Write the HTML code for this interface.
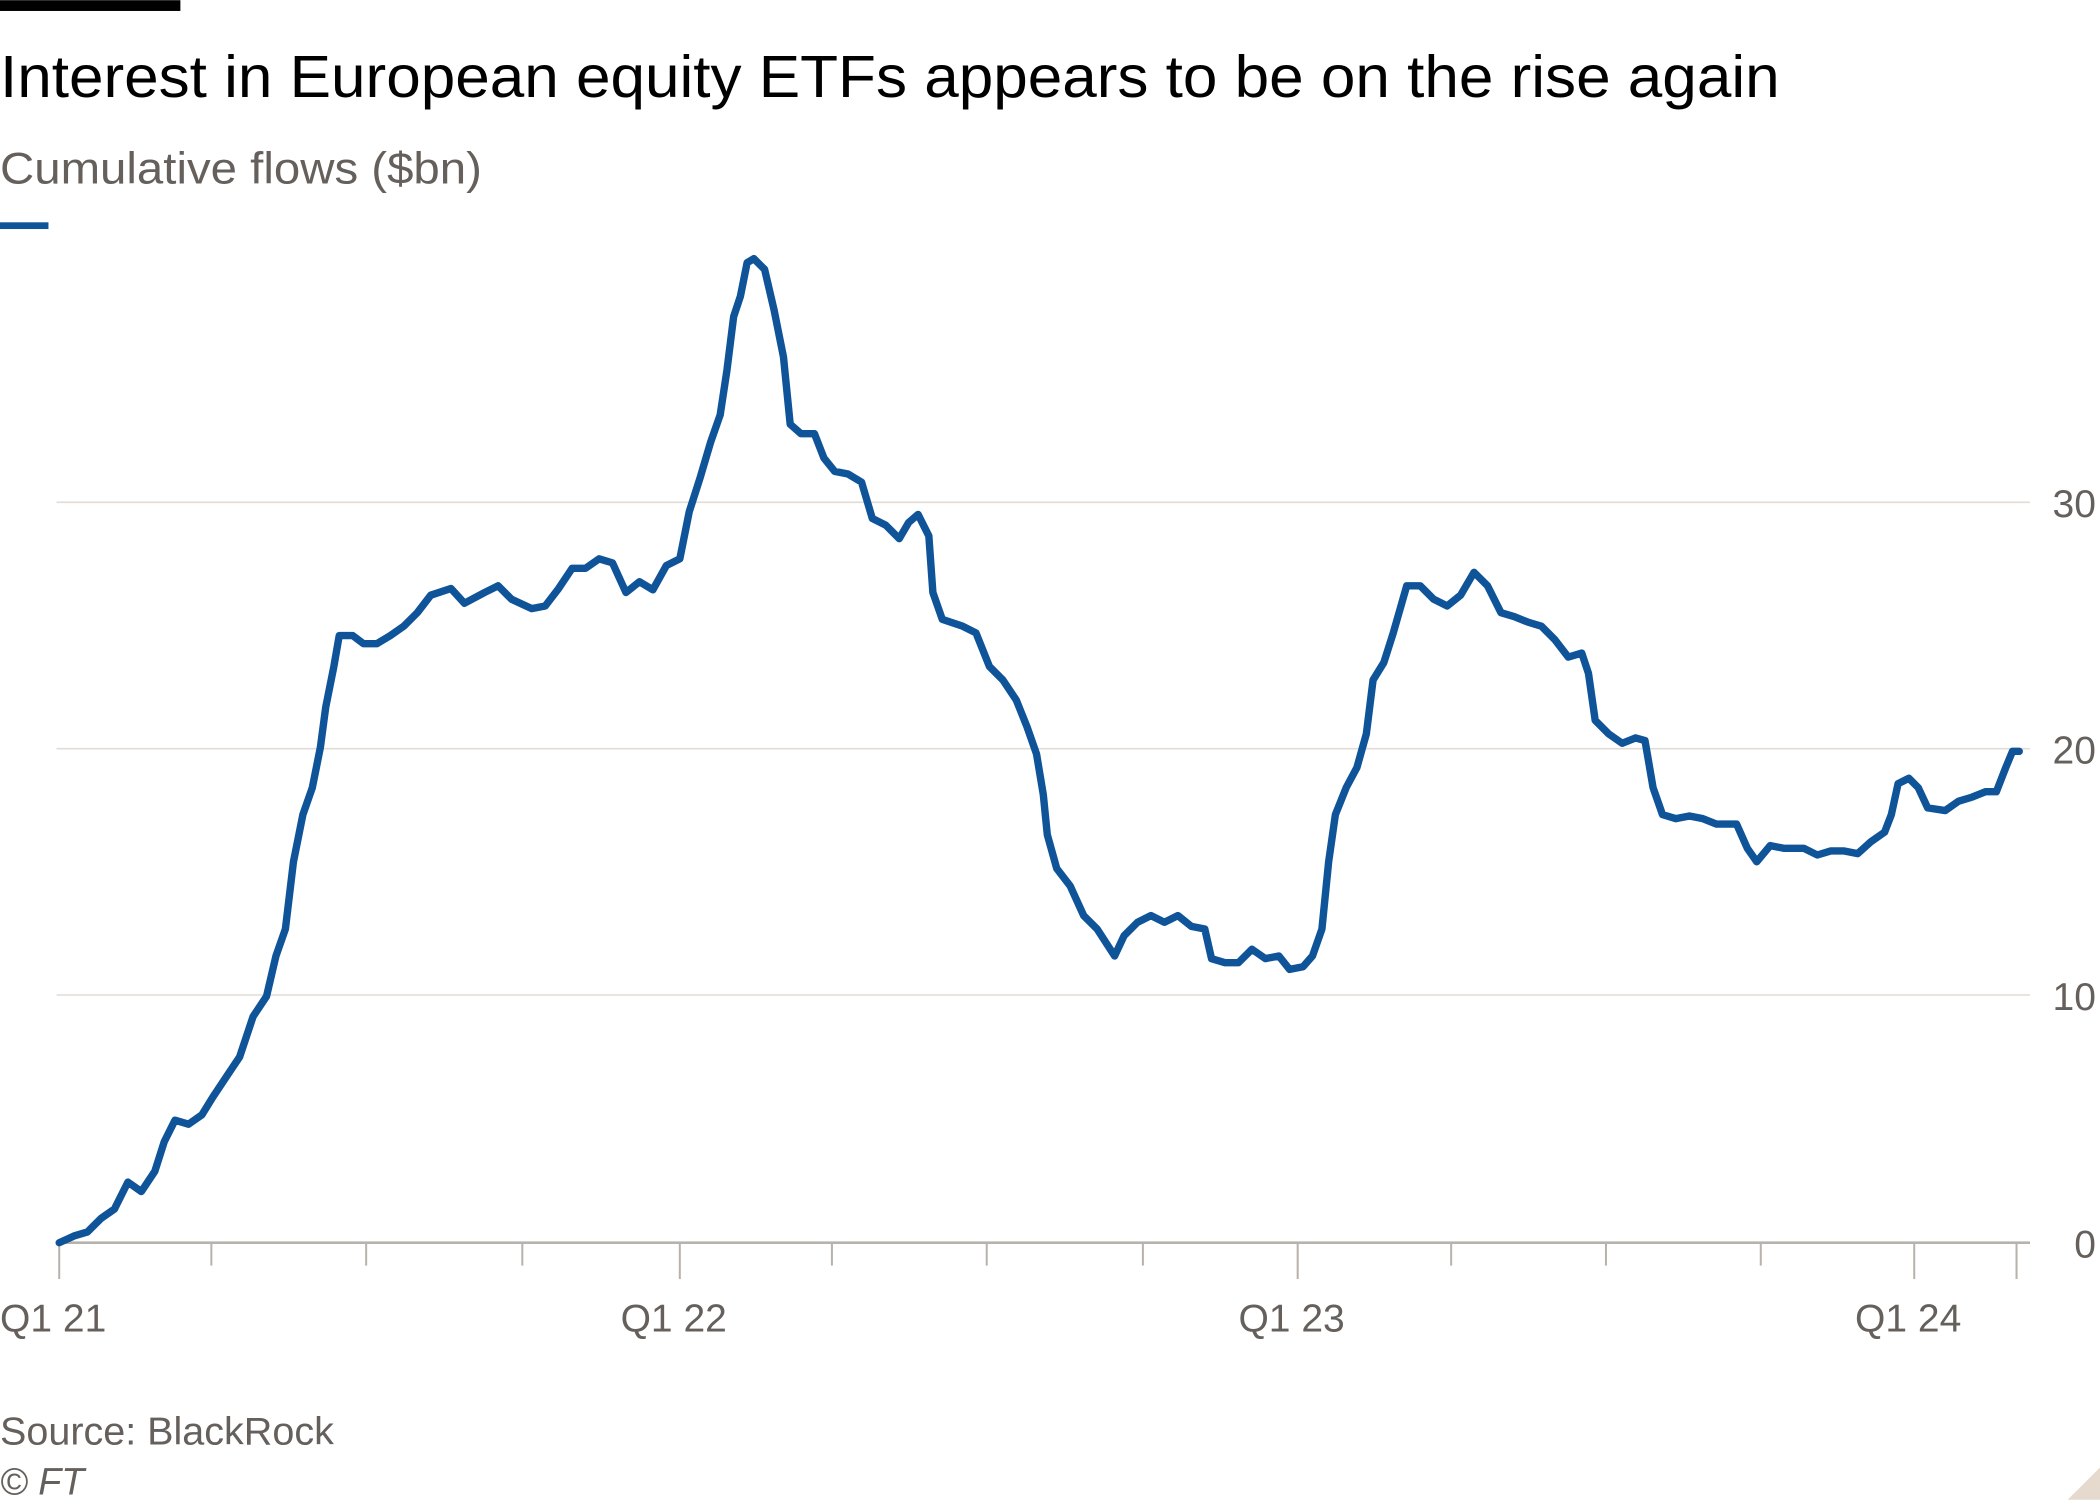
<!DOCTYPE html>
<html><head><meta charset="utf-8"><style>
html,body{margin:0;padding:0;background:#fff;}
svg{display:block;}
text{font-family:"Liberation Sans",sans-serif;}
</style></head><body>
<svg width="2100" height="1500" viewBox="0 0 1560 1114" xmlns="http://www.w3.org/2000/svg">
<rect x="0" y="0" width="134" height="8" fill="#000"/>
<text x="0" y="72" font-size="44" fill="#000" textLength="1322" lengthAdjust="spacingAndGlyphs">Interest in European equity ETFs appears to be on the rise again</text>
<text x="0" y="136" font-size="33" fill="#66605c" textLength="358" lengthAdjust="spacingAndGlyphs">Cumulative flows ($bn)</text>
<rect x="0" y="165" width="36" height="5" fill="#0f5499"/>
<g stroke="#e2dcd5" stroke-width="1.2">
<line x1="42" y1="373" x2="1508" y2="373"/>
<line x1="42" y1="556" x2="1508" y2="556"/>
<line x1="42" y1="739" x2="1508" y2="739"/>
</g>
<line x1="42" y1="923" x2="1508" y2="923" stroke="#b8b2ad" stroke-width="2"/>
<g fill="#66605c" font-size="29" text-anchor="end">
<text x="1557" y="384">30</text><text x="1557" y="567">20</text><text x="1557" y="750">10</text><text x="1557" y="934">0</text>
</g>
<g stroke="#b8b2ad" stroke-width="1.5">
<line x1="44" y1="923" x2="44" y2="950"/><line x1="505" y1="923" x2="505" y2="950"/><line x1="964" y1="923" x2="964" y2="950"/><line x1="1422" y1="923" x2="1422" y2="950"/>
<line x1="157" y1="923" x2="157" y2="940"/><line x1="272" y1="923" x2="272" y2="940"/><line x1="388" y1="923" x2="388" y2="940"/>
<line x1="618" y1="923" x2="618" y2="940"/><line x1="733" y1="923" x2="733" y2="940"/><line x1="849" y1="923" x2="849" y2="940"/>
<line x1="1078" y1="923" x2="1078" y2="940"/><line x1="1193" y1="923" x2="1193" y2="940"/><line x1="1308" y1="923" x2="1308" y2="940"/><line x1="1498" y1="923" x2="1498" y2="950"/>
</g>
<g fill="#66605c" font-size="29">
<text x="0" y="989">Q1 21</text><text x="461" y="989">Q1 22</text><text x="920" y="989">Q1 23</text><text x="1378" y="989">Q1 24</text>
</g>
<polyline fill="none" stroke="#0f5499" stroke-width="5.5" stroke-linejoin="round" stroke-linecap="round" points="44,923 55,918 65,915 75,905 85,898 95,878 105,885 115,870 122,848 130,832 140,835 150,828 158,815 168,800 178,785 188,755 198,740 205,710 212,690 218,640 225,605 232,585 238,555 242,525 248,495 252,472 262,472 270,478 280,478 290,472 300,465 310,455 320,442 335,437 345,448 360,440 370,435 380,445 395,452 405,450 415,437 425,422 435,422 445,415 455,418 465,440 475,432 485,438 495,420 505,415 512,380 520,355 528,328 535,308 540,275 545,235 550,220 555,195 560,192 568,200 575,230 582,265 587,315 595,322 605,322 612,340 620,350 630,352 640,358 648,385 658,390 668,400 675,388 682,382 690,398 693,440 700,460 715,465 725,470 735,495 745,505 755,520 763,540 770,560 775,590 778,620 785,645 795,658 805,680 815,690 828,710 835,695 845,685 855,680 865,685 875,680 885,688 895,690 900,712 910,715 920,715 930,705 940,712 950,710 958,720 968,718 975,710 982,690 987,640 992,605 1000,585 1008,570 1015,545 1020,505 1028,492 1035,470 1045,435 1055,435 1065,445 1075,450 1085,442 1095,425 1105,435 1115,455 1125,458 1135,462 1145,465 1155,475 1165,488 1175,485 1180,500 1185,535 1195,545 1205,552 1215,548 1222,550 1228,585 1235,605 1245,608 1255,606 1265,608 1275,612 1290,612 1298,630 1305,640 1315,628 1325,630 1340,630 1350,635 1360,632 1370,632 1380,634 1390,625 1400,618 1405,605 1410,582 1418,578 1425,585 1432,600 1445,602 1455,595 1465,592 1475,588 1483,588 1490,570 1495,558 1500,558"/>
<text x="0" y="1073" font-size="29" fill="#66605c" textLength="248" lengthAdjust="spacingAndGlyphs">Source: BlackRock</text>
<text x="0" y="1110" font-size="28" fill="#66605c" font-style="italic">© FT</text>
<polygon points="1560,1090 1560,1114 1536,1114" fill="#e6d9ce"/>
</svg>
</body></html>
